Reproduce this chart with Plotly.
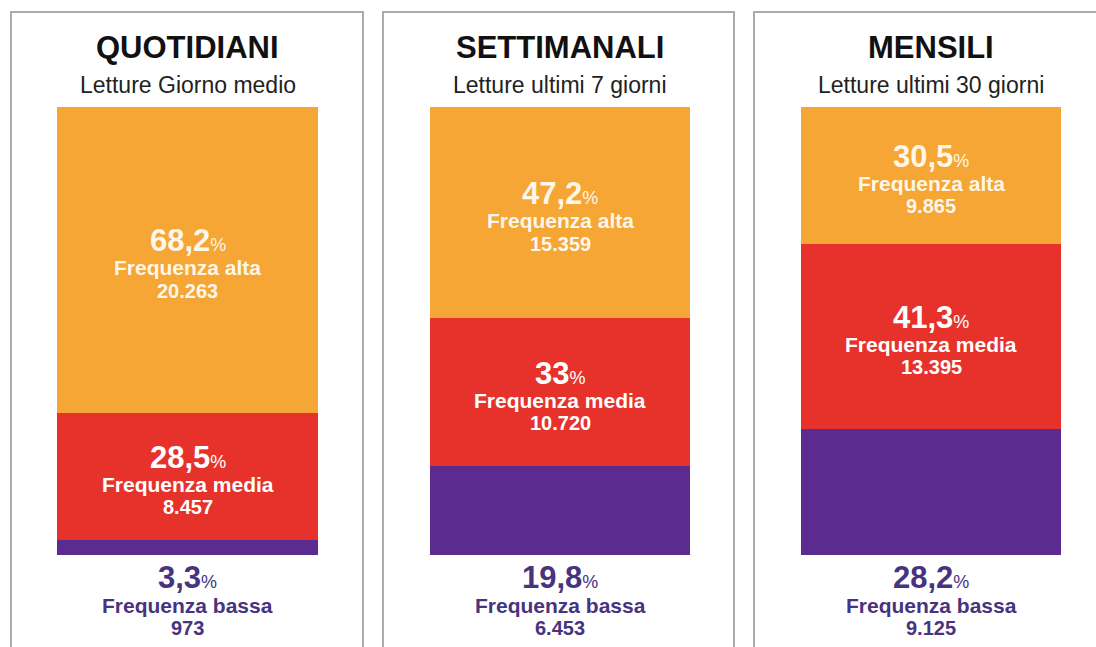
import plotly.graph_objects as go

# ---------------- data ----------------
panels = ["QUOTIDIANI", "SETTIMANALI", "MENSILI"]
subtitles = ["Letture Giorno medio", "Letture ultimi 7 giorni", "Letture ultimi 30 giorni"]
pct_alta = [68.2, 47.2, 30.5]
pct_media = [28.5, 33.0, 41.3]
pct_bassa = [3.3, 19.8, 28.2]
n_alta = ["20.263", "15.359", "9.865"]
n_media = ["8.457", "10.720", "13.395"]
n_bassa = ["973", "6.453", "9.125"]
lab_alta = "Frequenza alta"
lab_media = "Frequenza media"
lab_bassa = "Frequenza bassa"

# ---------------- style ----------------
W, H = 1096, 647
ORANGE = "#F5A634"
RED = "#E6322A"
PURPLE = "#5B2B90"
BOTTOM_TXT = "#47337E"
FONT = "Liberation Sans, Arial, Helvetica, sans-serif"
bar_px = [(57, 318), (430, 690), (801, 1061)]
box_px = [(11, 363), (383, 734), (754, 1110)]
bar_top, bar_bot = 107, 555


def fmt(v):
    return f"{v:g}".replace(".", ",")


fig = go.Figure()
annotations = []
shapes = []

for i in range(3):
    ax = "" if i == 0 else str(i + 1)
    xa, ya = "x" + ax, "y" + ax
    cat = [panels[i]]
    for vals, col in ((pct_bassa, PURPLE), (pct_media, RED), (pct_alta, ORANGE)):
        fig.add_trace(go.Bar(x=cat, y=[vals[i]], marker=dict(color=col, line=dict(width=0)),
                             xaxis=xa, yaxis=ya, showlegend=False, hoverinfo="skip"))
    x0, x1 = bar_px[i]
    fig.layout["xaxis" + ax] = dict(domain=[x0 / W, x1 / W], range=[-0.5, 0.5], visible=False,
                                    fixedrange=True)
    fig.layout["yaxis" + ax] = dict(domain=[1 - bar_bot / H, 1 - bar_top / H], range=[0, 100],
                                    visible=False, fixedrange=True)

    # segment labels
    segs = [
        (pct_bassa[i] + pct_media[i] / 2, pct_media[i], lab_media, n_media[i], "white"),
        (pct_bassa[i] + pct_media[i] + pct_alta[i] / 2, pct_alta[i], lab_alta, n_alta[i],
         "rgba(255,255,255,0.92)"),
    ]
    for ymid, v, lab, n, c in segs:
        annotations += [
            dict(x=panels[i], y=ymid, xref=xa, yref=ya, yshift=19, showarrow=False,
                 xanchor="center", yanchor="middle",
                 text=f"<b>{fmt(v)}</b><span style='font-size:18px'>%</span>",
                 font=dict(size=31, color=c, family=FONT)),
            dict(x=panels[i], y=ymid, xref=xa, yref=ya, yshift=-8, showarrow=False,
                 xanchor="center", yanchor="middle",
                 text=f"<b>{lab}</b>", font=dict(size=21, color=c, family=FONT)),
            dict(x=panels[i], y=ymid, xref=xa, yref=ya, yshift=-31, showarrow=False,
                 xanchor="center", yanchor="middle",
                 text=f"<b>{n}</b>", font=dict(size=20, color=c, family=FONT)),
        ]
    # bottom (bassa) label below bar
    annotations += [
        dict(x=panels[i], y=0, xref=xa, yref=ya, yshift=-22, showarrow=False,
             xanchor="center", yanchor="middle",
             text=f"<b>{fmt(pct_bassa[i])}</b><span style='font-size:18px'>%</span>",
             font=dict(size=31, color=BOTTOM_TXT, family=FONT)),
        dict(x=panels[i], y=0, xref=xa, yref=ya, yshift=-50, showarrow=False,
             xanchor="center", yanchor="middle",
             text=f"<b>{lab_bassa}</b>", font=dict(size=21, color=BOTTOM_TXT, family=FONT)),
        dict(x=panels[i], y=0, xref=xa, yref=ya, yshift=-73, showarrow=False,
             xanchor="center", yanchor="middle",
             text=f"<b>{n_bassa[i]}</b>", font=dict(size=20, color=BOTTOM_TXT, family=FONT)),
    ]

    # titles
    cx = (x0 + x1) / 2 / W
    annotations += [
        dict(x=cx, y=1 - 48 / H, xref="paper", yref="paper", showarrow=False,
             xanchor="center", yanchor="middle",
             text=f"<b>{panels[i]}</b>", font=dict(size=31, color="#111111", family=FONT)),
        dict(x=cx, y=1 - 85 / H, xref="paper", yref="paper", showarrow=False,
             xanchor="center", yanchor="middle",
             text=subtitles[i], font=dict(size=23, color="#222222", family=FONT)),
    ]
    # panel frame
    bx0, bx1 = box_px[i]
    shapes.append(dict(type="rect", xref="paper", yref="paper", x0=bx0 / W, x1=bx1 / W,
                       y0=-0.1, y1=1 - 12 / H, line=dict(color="#ABABAB", width=2),
                       fillcolor="rgba(0,0,0,0)", layer="below"))

fig.update_layout(
    width=W, height=H, margin=dict(l=0, r=0, t=0, b=0),
    barmode="stack", bargap=0,
    paper_bgcolor="white", plot_bgcolor="white",
    annotations=annotations, shapes=shapes,
)

fig.write_html("out.html", config={"displayModeBar": False},
               post_script="document.body.style.margin='0';")
